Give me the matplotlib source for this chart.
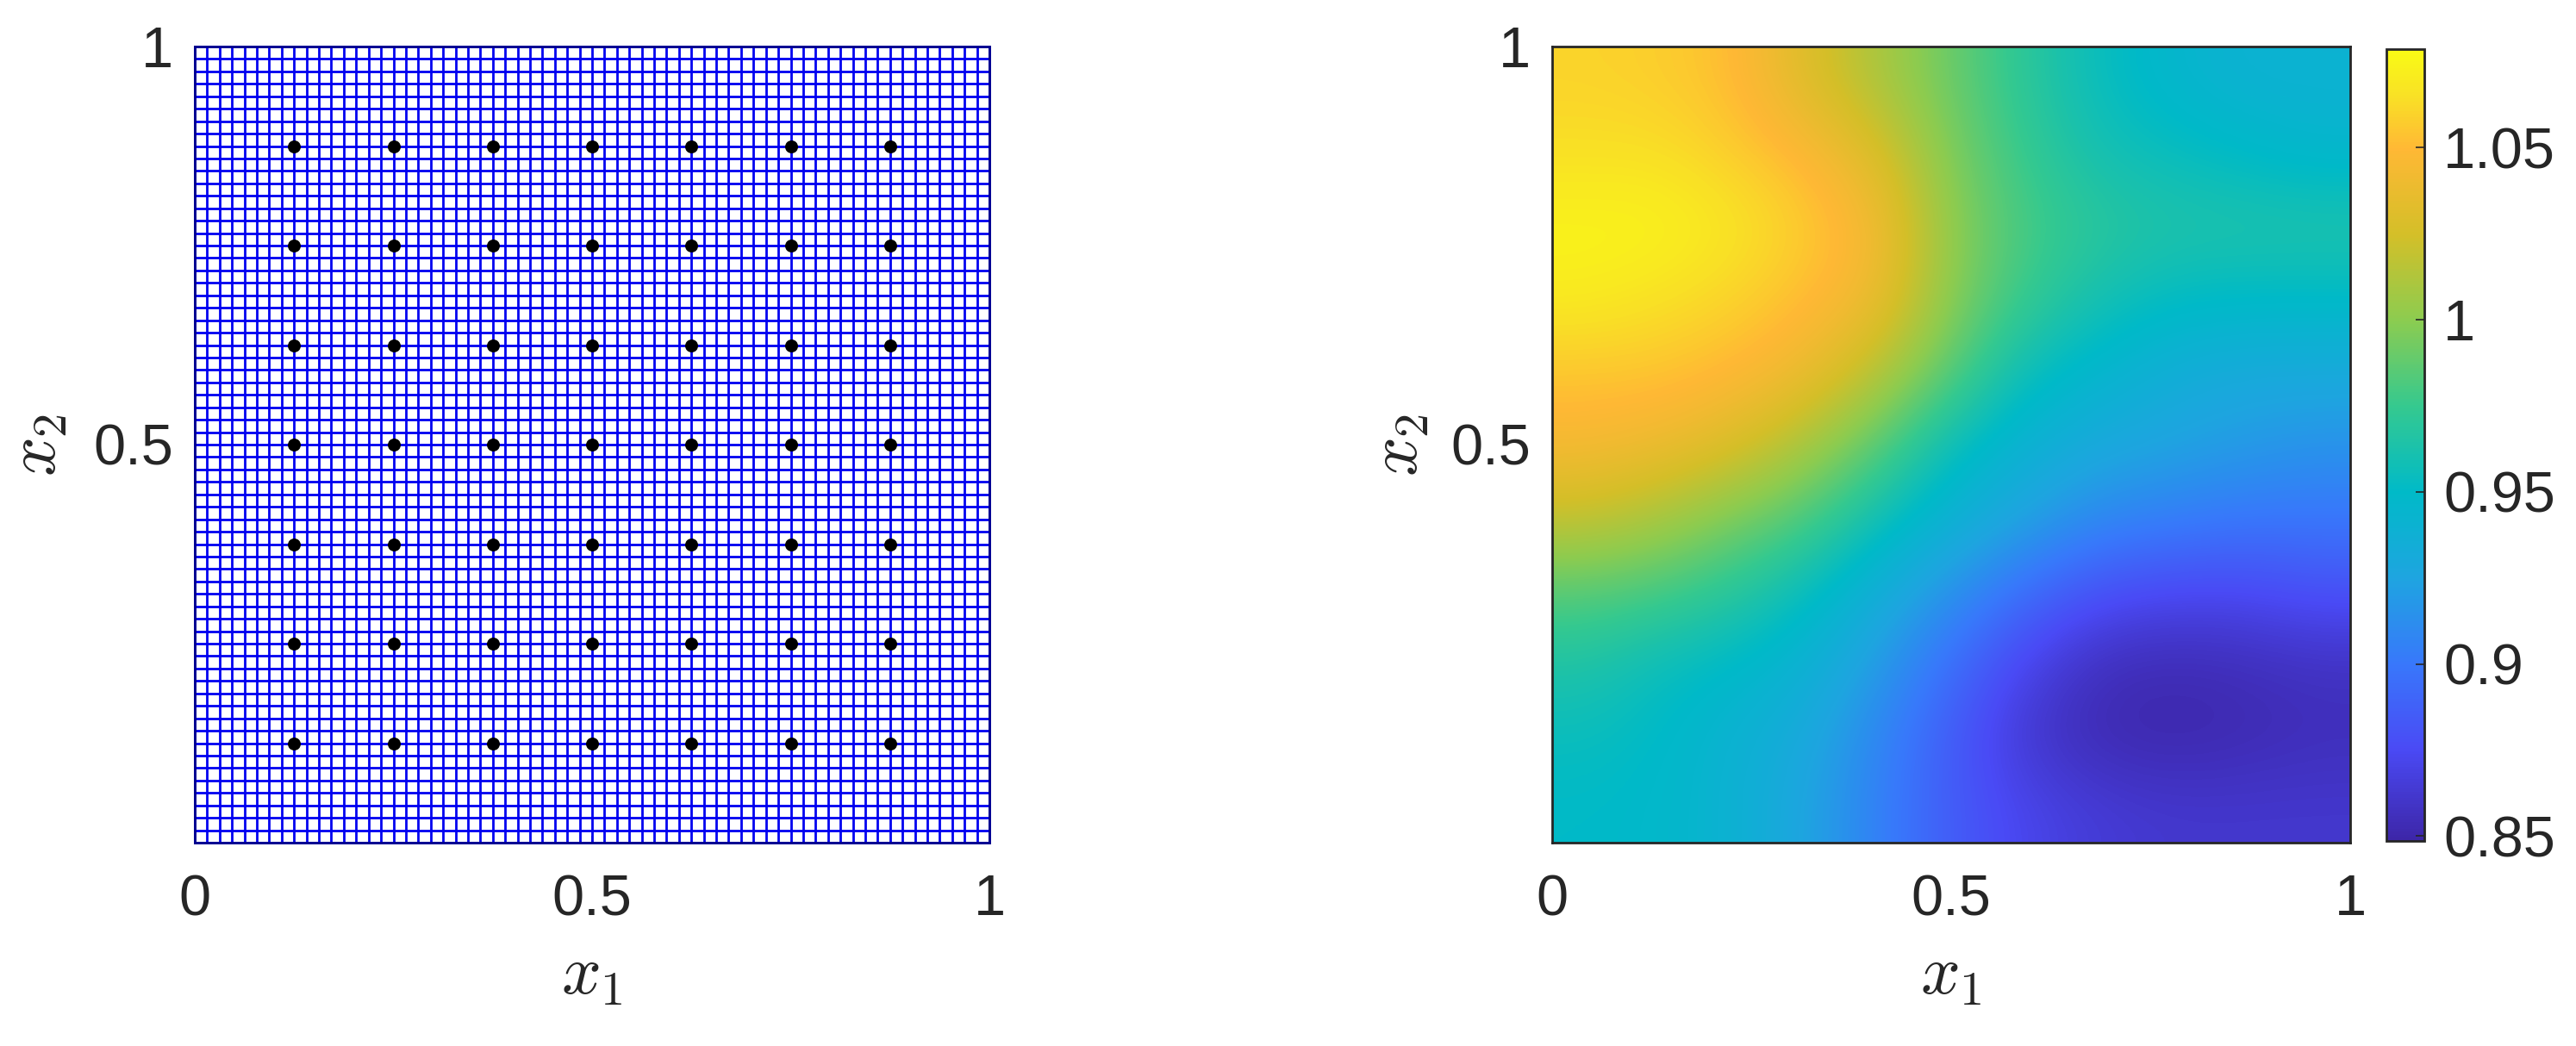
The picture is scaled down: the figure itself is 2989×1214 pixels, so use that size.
import numpy as np
import matplotlib
matplotlib.use("Agg")
import matplotlib.pyplot as plt
from matplotlib.colors import LinearSegmentedColormap

plt.rcParams['font.family'] = ['Liberation Sans', 'DejaVu Sans']
plt.rcParams['mathtext.fontset'] = 'cm'

W, H = 2989, 1214

n_cells = 64
points = [0.125, 0.25, 0.375, 0.5, 0.625, 0.75, 0.875]
ticks = [0, 0.5, 1]
tick_labels = ['0', '0.5', '1']
cbar_ticks = [0.85, 0.9, 0.95, 1.0, 1.05]
cbar_labels = ['0.85', '0.9', '0.95', '1', '1.05']
vmin, vmax = 0.8486, 1.0786

# colours of the colorbar at given values
cmap_values = [0.8486, 0.875, 0.9, 0.925, 0.95, 0.975, 1.0, 1.025, 1.05, 1.065, 1.0786]
cmap_colors = ['#3d26a8', '#4a4af5', '#3878fb', '#1ea5e0', '#00bac8', '#35c98f',
               '#8ccc50', '#d4bf28', '#ffb835', '#f9e026', '#f9fb15']
cmap = LinearSegmentedColormap.from_list(
    'parula', [((v - vmin) / (vmax - vmin), c) for v, c in zip(cmap_values, cmap_colors)])

# rows go from x2=0 to x2=1, columns x1=0 to x1=1, in steps of 0.1
field = np.array([
    [.950, .948, .940, .925, .905, .885, .872, .865, .862, .862, .862],
    [.955, .950, .940, .930, .908, .885, .862, .852, .850, .852, .855],
    [.965, .955, .950, .940, .920, .895, .872, .856, .853, .855, .858],
    [.985, .980, .970, .955, .935, .915, .895, .880, .875, .875, .880],
    [1.02, 1.01, .995, .982, .958, .940, .925, .910, .905, .900, .900],
    [1.045, 1.04, 1.03, 1.01, .985, .955, .940, .930, .925, .920, .915],
    [1.055, 1.055, 1.05, 1.04, 1.015, .985, .955, .945, .935, .930, .930],
    [1.07, 1.065, 1.06, 1.052, 1.04, .998, .975, .960, .952, .950, .950],
    [1.075, 1.075, 1.068, 1.058, 1.045, 1.00, .980, .970, .965, .965, .965],
    [1.065, 1.065, 1.058, 1.05, 1.03, .995, .975, .960, .955, .950, .945],
    [1.06, 1.058, 1.052, 1.03, 1.01, .990, .970, .955, .945, .940, .940],
])


def px_axes(fig, x0, y0, x1, y1):
    return fig.add_axes([x0 / W, 1 - y1 / H, (x1 - x0) / W, (y1 - y0) / H])


def style(ax, tick_len, ylabel_pad):
    ax.set_xlim(0, 1)
    ax.set_ylim(0, 1)
    ax.set_xticks(ticks)
    ax.set_xticklabels(tick_labels)
    ax.set_yticks(ticks[1:])
    ax.set_yticklabels(tick_labels[1:])
    ax.tick_params(direction='in', length=tick_len, width=1.2, labelsize=48, colors='#262626')
    ax.tick_params(axis='x', pad=26)
    ax.tick_params(axis='y', pad=18)
    for s in ax.spines.values():
        s.set_linewidth(2)
        s.set_color('#262626')
    ax.set_xlabel('$x_1$', fontsize=58, color='#262626', labelpad=13)
    ax.set_ylabel('$x_2$', fontsize=58, color='#262626', labelpad=ylabel_pad)


fig = plt.figure(figsize=(W / 100, H / 100), dpi=100)

# left panel: mesh and points
ax1 = px_axes(fig, 226, 54, 1148, 978)
grid = np.linspace(0, 1, n_cells + 1)
ax1.vlines(grid, 0, 1, color='#0000f0', lw=2, clip_on=False)
ax1.hlines(grid, 0, 1, color='#0000f0', lw=2, clip_on=False)
px, py = np.meshgrid(points, points)
ax1.plot(px.ravel(), py.ravel(), 'o', color='black', ms=10.8, mew=0, zorder=5)
style(ax1, 6, 19)
for s in ax1.spines.values():
    s.set_color('#00008c')

# right panel: field
ax2 = px_axes(fig, 1801, 54, 2727, 978)
im = ax2.imshow(field, origin='lower', extent=[0, 1, 0, 1], cmap=cmap, vmin=vmin, vmax=vmax,
                interpolation='bicubic', aspect='auto')
style(ax2, 0, 16)

cax = px_axes(fig, 2769, 57, 2813, 976)
cb = fig.colorbar(im, cax=cax)
cb.set_ticks(cbar_ticks)
cb.set_ticklabels(cbar_labels)
cb.ax.tick_params(direction='in', length=7, width=1.2, labelsize=48, pad=16, colors='#262626')
cb.outline.set_linewidth(2)
cb.outline.set_edgecolor('#262626')

fig.savefig('out.png', dpi=100)
